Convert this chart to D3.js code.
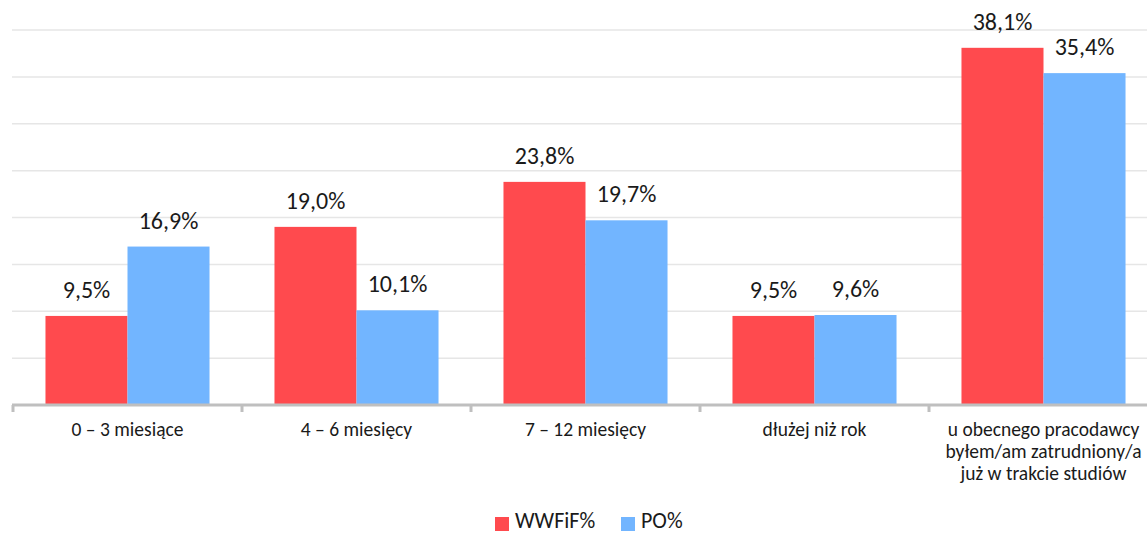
<!DOCTYPE html>
<html><head><meta charset="utf-8">
<script src="https://cdn.jsdelivr.net/npm/d3@7"></script>
<style>body{margin:0;background:#fff}svg{display:block}text{font-family:Carlito,Calibri,"Open Sans",sans-serif;fill:#1a1a1a}</style>
</head><body><svg id="c" width="1147" height="533"></svg>
<script>
const categories = [["0 – 3 miesiące"],["4 – 6 miesięcy"],["7 – 12 miesięcy"],["dłużej niż rok"],["u obecnego pracodawcy","byłem/am zatrudniony/a","już w trakcie studiów"]];
const seriesNames = ["WWFiF%","PO%"];
const wwfif = [9.5, 19.0, 23.8, 9.5, 38.1];
const po = [16.9, 10.1, 19.7, 9.6, 35.4];
const yTicks = [0,5,10,15,20,25,30,35,40];
const colors = ["#FF4A4E","#72B5FF"];

const svg = d3.select("#c");
const x0 = d3.scaleBand().domain(d3.range(categories.length)).range([13,1158]).paddingInner(0).paddingOuter(0);
const x1 = d3.scaleBand().domain([0,1]).range([0,x0.bandwidth()]).paddingOuter(0.396).paddingInner(0);
const y = d3.scaleLinear().domain([0,40]).range([405,30]);

svg.append("g").selectAll("line").data(yTicks.slice(1)).join("line")
  .attr("x1",12).attr("x2",1147).attr("y1",d=>y(d)).attr("y2",d=>y(d))
  .attr("stroke","#e6e6e6").attr("stroke-width",1.5);

const data = categories.map((c,i)=>[wwfif[i],po[i]]);
const fmt = v => v.toFixed(1).replace(".",",")+"%";
const g = svg.append("g").selectAll("g").data(data).join("g").attr("transform",(d,i)=>`translate(${x0(i)},0)`);
g.selectAll("rect").data(d=>d).join("rect")
  .attr("x",(d,j)=>x1(j)).attr("width",x1.bandwidth())
  .attr("y",d=>y(d)).attr("height",d=>y(0)-y(d)).attr("fill",(d,j)=>colors[j]);
g.selectAll("text.v").data(d=>d).join("text").attr("class","v")
  .attr("x",(d,j)=>x1(j)+x1.bandwidth()/2).attr("y",d=>y(d)-18)
  .attr("text-anchor","middle").style("font-size","24px").text(fmt);

// axis
const ax = svg.append("g").attr("transform","translate(0,405)");
ax.append("line").attr("x1",12).attr("x2",1147).attr("y1",0).attr("y2",0).attr("stroke","#bfbfbf").attr("stroke-width",3);
ax.selectAll("line.t").data(d3.range(categories.length)).join("line").attr("class","t")
  .attr("x1",i=>x0(i)).attr("x2",i=>x0(i)).attr("y1",0).attr("y2",7).attr("stroke","#bfbfbf").attr("stroke-width",3);
const lbl = ax.selectAll("text.c").data(categories).join("text").attr("class","c")
  .attr("text-anchor","middle").style("font-size","19.5px")
  .attr("transform",(d,i)=>`translate(${x0(i)+x0.bandwidth()/2},0)`);
lbl.selectAll("tspan").data(d=>d).join("tspan").attr("x",0).attr("y",(d,k)=>31+k*22).text(d=>d);

// legend
const leg = svg.append("g");
const legX = [495, 621];
seriesNames.forEach((n,j)=>{
  leg.append("rect").attr("x",legX[j]).attr("y",517).attr("width",14).attr("height",14).attr("fill",colors[j]);
  leg.append("text").attr("x",legX[j]+20).attr("y",528).style("font-size","22px").text(n);
});
</script></body></html>
